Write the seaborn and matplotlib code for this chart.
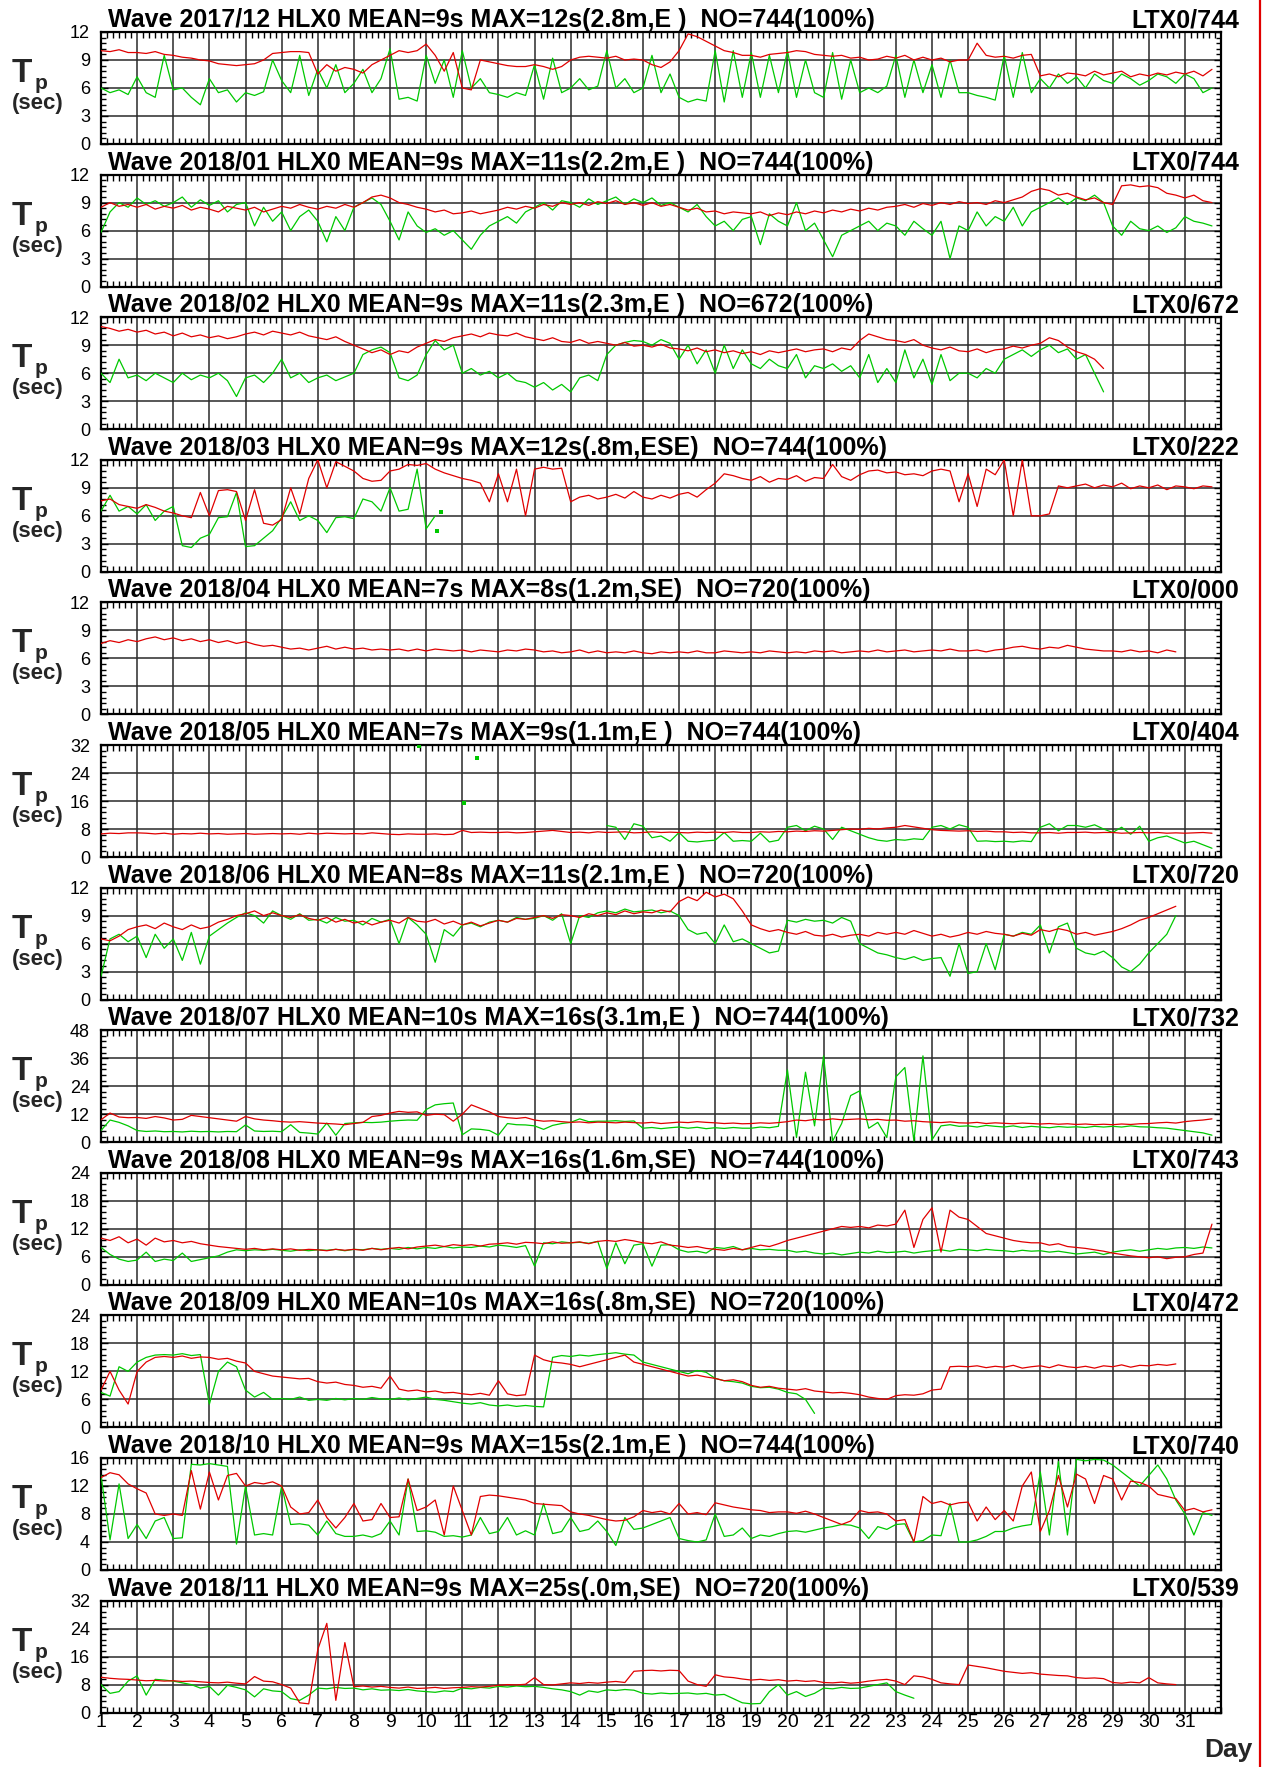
import numpy as np
import pandas as pd
import matplotlib
matplotlib.use("Agg")
import matplotlib.pyplot as plt
from matplotlib.lines import Line2D
from matplotlib.ticker import MultipleLocator, NullFormatter
import seaborn as sns

# ---------------- DATA (peak period Tp, sec; one value every 6 hours) ----------------
step_hours = 6
day_labels = list(range(1, 32))

red_1712 = [10.0,9.9,10.1,9.8, 9.8,9.7,9.9,9.6, 9.5,9.3,9.2,9.0, 8.9,8.6,8.5,8.4,
            8.5,8.6,9.0,9.7, 9.8,9.9,9.9,9.8, 7.5,8.5,7.8,8.2, 8.0,7.6,8.5,9.0,
            9.5,10.0,9.8,10.0, 10.7,9.5,7.8,9.8, 6.0,5.8,9.0,8.8, 8.6,8.4,8.3,8.3,
            8.5,8.3,8.0,8.3, 9.0,9.3,9.4,9.3, 9.2,9.4,9.0,9.1, 9.0,8.5,8.2,8.8,
            10.0,11.8,11.5,11.0, 10.5,10.0,9.8,9.5, 9.5,9.3,9.6,9.7, 9.8,10.0,9.9,9.6,
            9.5,9.4,9.5,9.2, 9.3,9.0,9.1,9.4, 9.2,9.5,9.0,9.3, 9.0,9.2,8.8,9.0,
            9.0,10.8,9.5,9.3, 9.4,9.2,9.5,9.6, 7.3,7.5,7.2,7.6, 7.5,7.3,7.8,7.4,
            7.6,7.8,7.2,7.5, 7.3,7.6,7.4,7.7, 7.5,7.8,7.3,8.0]
green_1712 = [6.0,5.5,5.8,5.3, 7.2,5.5,5.0,9.5, 5.8,6.0,5.0,4.2, 7.0,5.5,5.8,4.5,
              5.5,5.2,5.6,9.0, 6.8,5.5,9.5,5.2, 8.0,6.0,8.5,5.5, 6.5,8.0,5.5,7.0,
              10.2,4.8,5.0,4.6, 9.5,6.5,9.0,5.0, 10.0,6.0,7.0,5.5, 5.3,5.0,5.5,5.2,
              8.5,4.8,9.2,5.5, 6.0,7.0,5.8,6.2, 10.0,6.0,7.0,5.5, 6.0,9.5,5.5,7.5,
              5.0,4.5,4.8,4.6, 10.0,4.5,10.0,5.0, 9.8,5.0,9.5,5.5, 10.0,5.0,9.0,5.5,
              5.0,9.8,4.8,9.0, 5.5,6.0,5.5,6.2, 9.5,5.0,9.0,5.5, 8.5,5.0,9.0,5.5,
              5.5,5.2,5.0,4.7, 9.5,5.0,9.8,5.5, 7.0,6.0,7.5,6.5, 7.2,6.0,7.5,6.8,
              6.5,7.5,7.0,6.3, 6.8,7.5,7.2,6.5, 7.5,7.0,5.5,6.0]

red_1801 = [8.5,9.0,8.6,8.8, 8.5,8.8,8.3,8.6, 8.4,8.7,8.2,8.5, 8.3,8.0,8.6,8.4,
            8.2,8.5,8.0,8.3, 8.6,8.4,8.8,8.5, 8.3,8.6,8.4,8.8, 8.5,9.0,9.6,9.8,
            9.5,9.0,8.8,8.5, 8.3,8.0,8.2,7.8, 7.9,8.1,7.8,8.0, 8.2,8.5,8.3,8.6,
            8.4,8.8,8.6,9.0, 8.8,9.0,8.7,9.1, 8.9,9.2,8.8,9.0, 8.7,9.0,8.6,8.8,
            8.5,8.2,8.4,8.0, 8.1,7.8,8.0,7.9, 7.8,8.0,7.6,7.9, 7.7,8.0,7.8,8.1,
            7.9,8.2,8.0,8.3, 8.1,8.4,8.2,8.5, 8.6,8.8,8.5,8.9, 8.7,9.0,8.8,9.1,
            8.9,9.0,8.8,9.2, 9.0,9.3,9.6,10.2, 10.5,10.3,9.8,10.0, 9.6,9.3,9.5,9.0,
            8.8,10.8,10.9,10.7, 10.8,10.6,10.0,9.8, 9.5,9.8,9.2,9.0]
green_1801 = [5.8,8.0,9.0,8.5, 9.5,8.8,9.2,8.6, 9.0,9.6,8.5,9.3, 8.7,9.2,8.0,8.8,
              9.0,6.5,8.5,7.0, 8.0,6.0,7.5,8.2, 7.0,4.8,7.5,6.0, 8.5,9.0,9.5,8.8,
              7.0,5.0,8.0,6.5, 5.8,6.2,5.5,6.0, 5.0,4.0,5.5,6.5, 7.0,7.5,6.8,8.0,
              8.5,9.0,8.2,9.2, 9.0,8.5,9.4,8.8, 9.2,9.6,8.8,9.4, 9.0,9.5,8.7,9.0,
              8.5,8.0,8.8,7.5, 6.5,7.0,6.0,7.2, 7.5,4.5,7.8,7.0, 6.5,9.0,6.0,6.8,
              5.0,3.2,5.5,6.0, 6.5,7.0,6.0,6.8, 6.5,5.5,7.0,6.2, 5.5,7.0,3.0,6.5,
              6.0,8.0,6.5,7.5, 7.0,8.5,6.5,8.0, 8.5,9.0,9.5,8.8, 9.5,9.2,9.8,9.0,
              6.5,5.5,7.0,6.2, 6.0,6.5,5.8,6.3, 7.5,7.0,6.8,6.5]

red_1802 = [11.0,10.8,10.5,10.7, 10.4,10.6,10.2,10.4, 10.0,10.3,9.9,10.1, 9.8,10.0,9.7,9.9,
            10.2,10.4,10.1,10.5, 10.3,10.1,10.4,10.0, 9.8,9.6,9.9,9.4, 9.0,8.6,8.2,8.5,
            8.0,8.4,8.2,8.8, 9.2,9.6,9.4,9.8, 10.0,10.2,9.9,10.3, 10.1,10.0,10.3,9.9,
            9.7,9.5,9.8,9.4, 9.3,9.6,9.2,9.4, 9.2,9.0,9.3,8.9, 9.0,8.8,9.1,8.7,
            8.6,8.4,8.7,8.3, 8.5,8.2,8.4,8.1, 8.3,8.0,8.4,8.2, 8.4,8.6,8.3,8.5,
            8.6,8.3,8.7,8.5, 9.5,10.2,9.9,9.6, 9.5,9.3,9.6,9.0, 8.7,8.5,8.8,8.4,
            8.3,8.6,8.2,8.5, 8.6,8.9,8.7,9.0, 9.2,9.8,9.5,8.8, 8.3,8.0,7.5,6.5]
green_1802 = [6.0,5.0,7.5,5.5, 5.8,5.2,6.0,5.5, 5.0,6.0,5.3,5.8, 5.5,6.0,5.2,3.5,
              5.5,5.8,5.0,6.0, 7.5,5.5,6.0,5.0, 5.5,5.8,5.2,5.6, 6.0,8.0,8.5,8.8,
              8.2,5.5,5.2,5.8, 8.0,9.5,8.5,9.0, 6.0,6.5,5.8,6.2, 5.5,6.0,5.2,5.0,
              4.5,5.0,4.2,4.8, 4.0,5.5,5.8,5.2, 8.0,9.0,9.3,9.5, 9.4,9.0,9.6,9.2,
              7.5,9.0,7.0,8.5, 6.0,9.0,6.5,8.5, 7.0,6.5,7.5,6.8, 6.5,8.0,5.5,6.8,
              6.5,7.0,6.2,6.8, 5.5,8.0,5.0,6.5, 5.0,8.5,5.5,7.5, 4.8,8.0,5.2,6.0,
              6.0,5.5,6.5,6.0, 7.5,8.0,8.5,7.8, 8.5,9.0,8.2,8.6, 7.5,8.0,6.0,4.0]

red_1803 = [7.6,7.8,7.2,7.0, 6.8,7.2,6.9,6.5, 6.3,6.0,5.8,8.5, 6.0,8.7,8.8,8.6,
            5.5,8.8,5.2,5.0, 5.6,9.0,6.2,10.0, 12.0,9.0,11.8,11.3, 10.8,10.0,9.7,9.8,
            10.8,11.0,11.5,11.4, 11.6,11.0,10.6,10.3, 10.0,9.8,9.5,7.5, 10.5,7.5,11.0,6.0,
            11.0,11.2,11.0,11.1, 7.5,8.0,8.2,7.8, 8.0,8.3,7.9,8.6, 8.0,7.8,8.2,7.9,
            8.3,8.5,8.0,8.8, 9.5,10.5,10.3,10.0, 9.8,10.2,9.6,10.0, 9.9,10.3,9.7,10.1,
            10.0,11.5,10.2,9.8, 10.4,10.8,10.9,10.6, 10.7,10.4,10.5,10.3, 10.8,11.0,10.8,7.5,
            10.5,7.0,11.0,10.4, 12.0,6.0,12.0,6.0, 6.0,6.2,9.2,9.0, 9.2,9.4,9.0,9.3,
            9.1,9.5,8.9,9.2, 9.0,9.3,8.8,9.2, 9.1,8.9,9.2,9.1]
green_1803 = [6.5,8.2,6.5,7.0, 6.2,7.2,5.5,6.5, 7.0,2.8,2.6,3.6, 4.0,5.8,5.9,8.5,
              2.7,2.8,3.6,4.4, 5.8,7.5,5.5,6.0, 5.5,4.2,5.8,5.9, 5.7,7.8,7.5,6.5,
              9.0,6.5,6.7,11.0, 4.6,6.0]
dots_1803_day = [10.3, 10.4]
dots_1803_val = [4.4, 6.4]

red_1804 = [7.6,7.9,7.7,8.0, 7.8,8.1,8.3,8.0, 8.2,7.9,8.1,7.8, 8.0,7.7,7.9,7.6,
            7.8,7.5,7.3,7.4, 7.2,7.0,7.1,6.9, 7.1,7.3,7.0,7.2, 7.0,7.1,6.9,7.0,
            6.9,7.0,6.8,7.0, 6.8,7.0,6.9,6.8, 6.9,6.7,6.9,6.8, 6.7,6.9,6.8,7.0,
            6.9,6.7,6.8,6.6, 6.7,6.9,6.6,6.8, 6.6,6.7,6.6,6.8, 6.6,6.5,6.7,6.6,
            6.7,6.6,6.8,6.6, 6.6,6.8,6.7,6.6, 6.7,6.6,6.8,6.7, 6.6,6.7,6.6,6.8,
            6.7,6.8,6.6,6.7, 6.8,6.7,6.9,6.7, 6.8,6.9,6.7,6.8, 6.9,6.8,7.0,6.8,
            6.8,6.9,6.7,6.9, 7.0,7.2,7.3,7.1, 7.0,7.2,7.1,7.4, 7.2,7.0,6.9,6.8,
            6.8,6.7,6.9,6.7, 6.8,6.6,6.9,6.7]

red_1805 = [6.6,6.8,6.7,6.9, 6.9,6.8,6.6,6.8, 6.5,6.7,6.6,6.8, 6.6,6.7,6.5,6.6,
            6.7,6.5,6.6,6.7, 6.6,6.7,6.5,6.8, 6.6,6.8,6.7,6.6, 6.7,6.6,6.9,6.7,
            6.5,6.4,6.6,6.5, 6.5,6.6,6.4,6.5, 7.6,7.0,7.1,7.0, 7.0,7.1,6.9,7.0,
            7.2,7.4,7.6,7.3, 7.0,7.1,6.9,7.2, 7.0,7.1,7.2,6.9, 7.0,7.2,7.0,7.1,
            7.0,6.9,7.1,7.0, 7.1,7.0,7.2,7.0, 7.0,7.2,7.1,7.3, 7.2,7.4,7.3,7.5,
            7.4,7.6,7.8,8.0, 7.9,8.2,8.0,8.3, 8.5,9.0,8.6,8.2, 7.8,7.6,7.5,7.4,
            7.5,7.3,7.4,7.2, 7.2,7.0,7.1,6.9, 6.9,7.0,6.8,7.0, 7.0,7.1,6.9,7.0,
            7.0,6.8,6.9,7.0, 6.9,7.0,6.8,6.9, 6.8,6.9,7.0,6.8]
green_1805_start_day = 15
green_1805 = [9.0,8.5,5.0,9.5, 8.8,5.5,6.0,4.5, 7.0,4.5,4.3,4.6, 4.8,7.0,4.5,4.7,
              4.5,6.8,4.3,4.8, 8.5,9.0,7.5,8.8, 8.0,5.0,8.5,7.5, 6.5,5.5,4.8,4.5,
              5.0,4.8,5.2,5.0, 8.5,9.0,8.0,9.2, 8.5,4.5,4.6,4.4, 4.5,4.3,4.6,4.4,
              8.5,9.5,7.5,9.0, 9.0,8.5,9.2,8.0, 7.0,8.5,6.5,8.8, 4.5,5.5,6.0,5.0,
              4.0,4.5,3.5,2.5]
dots_1805_day = [9.8, 11.05, 11.4]
dots_1805_val = [31.6, 15.4, 28.3]

red_1806 = [6.5,6.3,6.8,7.5, 7.8,8.0,7.6,8.2, 7.8,7.5,8.0,7.6, 7.8,8.3,8.6,9.0,
            9.2,9.5,9.0,9.3, 9.0,8.8,9.1,8.7, 8.5,8.8,8.3,8.6, 8.2,8.4,8.0,8.3,
            8.5,8.2,8.8,8.4, 8.3,8.6,8.1,8.4, 8.0,8.3,7.9,8.2, 8.5,8.3,8.7,8.6,
            8.8,9.0,8.7,9.1, 9.0,8.8,9.2,9.0, 9.3,9.1,9.5,9.2, 9.4,9.3,9.6,9.4,
            10.5,11.0,10.6,11.5, 11.0,11.3,10.8,9.5, 8.0,7.6,7.3,7.5, 7.2,7.0,7.3,6.9,
            6.8,7.0,6.7,6.9, 7.0,6.8,7.2,7.0, 7.2,7.0,7.4,7.1, 6.8,7.0,6.7,6.9,
            7.2,7.0,7.3,7.1, 7.0,6.8,7.1,6.9, 7.5,7.3,7.6,7.4, 7.0,7.2,6.9,7.1,
            7.3,7.6,8.0,8.5, 8.8,9.2,9.6,10.0]
green_1806 = [2.5,6.5,7.0,6.2, 6.8,4.5,7.0,5.5, 6.5,4.2,7.2,3.8, 6.8,7.5,8.2,8.8,
              9.3,9.0,8.2,9.5, 9.0,8.6,9.2,8.5, 8.6,8.2,8.8,8.4, 8.5,8.0,8.7,8.3,
              8.6,6.0,8.8,8.0, 7.0,4.0,7.5,6.8, 8.0,8.2,7.8,8.3, 8.5,8.3,8.8,8.6,
              8.7,9.0,8.5,9.2, 6.0,9.0,8.8,9.3, 9.5,9.3,9.7,9.4, 9.5,9.6,9.3,9.5,
              9.0,7.5,7.0,7.2, 6.0,8.0,6.2,6.5, 6.0,5.5,5.0,5.2, 8.5,8.3,8.6,8.4,
              8.5,8.2,8.8,8.4, 6.0,5.5,5.0,4.8, 4.5,4.3,4.6,4.2, 4.4,4.5,2.5,6.0,
              2.8,3.0,6.0,3.2, 7.0,6.8,7.2,7.0, 8.0,5.0,7.8,8.2, 5.5,5.0,4.8,5.2,
              4.5,3.5,3.0,3.8, 5.0,6.0,7.0,9.0]

red_1807 = [9.6,12.5,10.8,10.5, 10.6,10.2,11.0,10.4, 9.5,9.8,11.5,11.0, 10.5,10.0,9.5,9.0,
            11.0,10.0,9.5,9.2, 8.8,8.6,8.8,8.5, 8.2,8.0,7.8,7.5, 8.0,8.5,11.0,11.5,
            12.5,13.2,12.8,13.0, 11.5,12.0,11.8,9.0, 12.0,16.0,14.5,13.0, 11.0,10.5,10.2,10.6,
            9.5,9.0,9.2,8.8, 8.5,8.7,8.3,8.6, 8.5,8.3,8.6,8.4, 8.2,8.5,8.0,8.3,
            8.6,8.4,8.8,8.5, 8.3,8.0,8.2,7.9, 8.0,8.3,8.1,8.4, 8.8,9.5,9.2,9.8,
            9.5,10.0,9.6,9.8, 10.0,9.6,9.8,9.4, 9.5,9.0,9.2,8.8, 8.6,8.4,8.7,8.3,
            8.2,8.5,8.0,8.3, 8.1,7.9,8.2,8.0, 7.8,8.0,7.7,7.9, 7.6,7.8,7.5,7.7,
            7.5,7.8,7.6,7.9, 8.0,8.3,8.5,8.2, 8.8,9.2,9.5,10.0]
green_1807 = [5.0,9.5,8.5,7.0, 5.0,4.6,4.8,4.5, 4.6,4.4,4.7,4.5, 4.6,4.4,4.6,4.5,
              7.4,4.8,4.6,4.7, 4.5,7.5,4.2,3.9, 3.5,8.2,3.0,8.0, 8.3,8.5,8.4,8.6,
              9.0,9.3,9.5,9.4, 14.0,16.0,16.5,16.8, 3.2,5.7,5.5,5.0, 3.0,8.0,7.5,7.4,
              7.0,5.5,7.2,8.0, 8.5,10.0,8.8,9.0, 9.0,9.2,8.9,9.1, 6.0,6.3,5.8,6.2,
              6.5,6.0,6.4,5.8, 6.2,5.9,6.3,6.0, 6.0,6.5,6.2,6.8, 31.0,2.0,30.0,7.0,
              37.0,0.5,8.0,20.0, 22.0,6.0,8.5,2.0, 28.0,32.0,0.5,37.0, 1.0,7.0,7.5,6.8,
              7.0,6.5,7.2,6.8, 6.5,7.0,6.3,6.8, 6.5,6.2,6.7,6.4, 6.6,6.3,6.8,6.5,
              6.8,6.5,7.0,6.6, 6.5,6.2,6.0,5.5, 5.0,4.5,4.0,3.0]

red_1808 = [10.0,9.5,10.3,9.0, 9.8,8.5,10.0,9.2, 9.5,9.0,9.3,8.8, 8.5,8.2,8.0,7.8,
            7.6,7.8,7.5,7.7, 7.5,7.7,7.4,7.6, 7.5,7.3,7.6,7.4, 7.6,7.4,7.8,7.5,
            7.8,8.0,7.7,8.1, 8.3,8.5,8.2,8.6, 8.4,8.6,8.3,8.7, 8.8,9.0,8.7,9.1,
            9.0,8.8,9.2,8.9, 9.0,9.2,8.8,9.3, 9.5,9.3,9.7,9.4, 9.0,8.8,9.2,8.5,
            8.3,8.0,8.2,7.8, 7.6,7.4,7.8,7.5, 8.0,8.5,8.2,8.8, 9.5,10.0,10.5,11.0,
            11.5,12.0,12.5,12.3, 12.5,12.2,12.8,12.6, 13.0,16.0,8.0,14.0, 16.5,7.0,16.0,14.5,
            14.0,12.5,11.0,10.5, 10.0,9.5,9.2,9.0, 9.0,8.5,8.8,8.2, 8.0,7.8,7.5,7.2,
            6.8,6.5,6.2,6.0, 5.8,6.0,5.6,5.9, 6.0,6.5,6.8,13.0]
green_1808 = [8.0,6.5,5.5,5.0, 5.3,7.0,5.0,5.5, 5.2,6.8,5.0,5.4, 5.8,6.2,7.0,7.5,
              7.3,7.5,7.4,7.6, 7.4,7.2,7.5,7.3, 7.5,7.4,7.6,7.3, 7.6,7.5,7.8,7.6,
              7.8,7.6,8.0,7.7, 8.0,7.8,8.2,7.9, 8.1,8.0,8.3,8.1, 8.5,8.3,8.0,8.4,
              4.0,9.0,8.8,9.2, 9.0,9.1,8.9,9.3, 3.5,9.0,4.5,8.5, 8.8,4.0,8.5,8.6,
              7.5,7.0,7.2,6.8, 8.0,7.8,8.2,7.5, 7.8,7.5,7.6,7.4, 7.4,7.0,7.2,6.8,
              6.6,6.8,6.4,6.7, 7.0,6.8,7.2,6.9, 7.0,7.2,6.8,7.1, 7.3,7.5,7.2,7.6,
              7.5,7.3,7.6,7.4, 7.3,7.1,7.4,7.2, 7.3,7.0,7.2,6.9, 6.6,6.8,7.0,6.5,
              7.0,7.3,7.5,7.2, 7.5,7.8,7.6,7.9, 8.0,7.8,8.1,7.9]

red_1809 = [8.0,12.0,8.0,5.0, 12.0,14.0,15.0,15.2, 15.0,15.3,14.8,15.1, 15.0,14.6,14.8,14.2,
            13.8,12.0,11.5,11.0, 10.8,10.6,10.4,10.5, 9.8,9.5,9.7,9.2, 9.0,8.6,8.8,8.4,
            11.0,8.2,7.8,8.0, 7.6,7.8,7.4,7.5, 7.2,7.0,7.3,6.9, 10.0,7.2,6.8,7.0,
            15.5,14.5,14.0,13.8, 13.5,13.0,13.5,14.0, 14.5,15.0,15.5,14.0, 13.5,13.0,12.5,12.0,
            11.5,11.0,11.2,10.8, 10.5,10.0,10.2,9.8, 9.0,8.6,8.8,8.4, 8.2,8.0,8.3,7.8,
            7.6,7.4,7.5,7.3, 7.0,6.5,6.2,6.0, 6.8,7.0,6.9,7.2, 8.0,8.2,13.0,13.1,
            13.0,13.2,12.8,13.1, 12.9,13.3,12.7,13.0, 13.2,12.8,13.4,13.0, 12.8,13.1,12.7,13.2,
            13.0,13.4,12.9,13.3, 13.2,13.5,13.3,13.6]
green_1809 = [7.5,6.7,13.0,12.0, 14.0,15.0,15.5,15.6, 15.5,15.8,15.4,15.6, 5.0,12.0,14.0,13.0,
              8.0,6.5,7.5,6.0, 6.2,6.0,6.5,5.8, 6.0,5.8,6.2,5.9, 6.2,6.0,6.4,6.1,
              6.0,6.3,5.9,6.2, 6.5,6.0,5.8,5.5, 5.2,5.0,5.3,4.8, 4.6,4.8,4.5,4.7,
              4.5,4.4,15.0,15.4, 15.2,15.5,15.3,15.6, 15.8,16.0,15.7,15.5, 14.0,13.5,13.0,12.5,
              12.0,11.5,12.2,11.8, 10.5,10.0,9.8,9.5, 8.8,8.5,8.6,8.2, 7.5,7.2,6.0,3.0]

red_1810 = [13.2,13.9,13.6,12.3, 11.6,11.0,8.0,7.8, 8.0,7.8,14.2,8.7, 14.0,10.0,13.5,13.8,
            12.0,12.5,12.3,12.6, 12.0,9.0,8.0,8.2, 10.0,7.5,6.0,7.5, 9.5,7.0,7.2,9.5,
            7.5,7.6,13.0,8.5, 9.0,10.0,5.0,12.0, 8.5,5.0,10.5,10.7, 10.6,10.4,10.2,10.0,
            9.5,9.4,9.3,9.2, 8.3,8.0,7.8,7.5, 7.2,7.0,7.1,7.6, 8.5,8.2,8.4,8.0,
            9.5,8.0,8.2,7.9, 9.6,9.3,9.0,8.8, 8.6,8.5,8.2,8.3, 8.3,8.1,8.4,8.0,
            7.5,7.0,6.5,7.0, 8.5,8.2,8.3,8.0, 7.0,7.2,4.0,10.5, 9.5,9.8,9.3,9.6,
            9.7,7.0,9.0,7.2, 8.5,7.0,12.0,14.0, 5.5,8.5,13.5,9.0, 13.7,13.0,9.5,13.5,
            13.0,10.0,12.7,12.5, 12.0,10.8,10.5,10.2, 8.5,8.8,8.3,8.6]
green_1810 = [13.5,4.3,12.3,4.5, 6.5,4.5,7.0,7.5, 4.5,4.6,15.1,15.0, 15.2,15.0,14.8,3.7,
              12.0,5.0,5.2,5.0, 12.0,6.5,6.6,6.4, 5.0,7.0,5.2,4.8, 4.8,5.0,4.7,5.2,
              7.0,5.0,13.0,5.5, 5.6,5.4,4.8,4.9, 4.7,5.0,7.5,5.2, 5.5,7.5,5.0,5.6,
              5.0,9.5,5.2,5.5, 7.5,5.5,5.8,7.0, 5.5,3.5,7.5,5.8, 6.0,6.5,7.0,7.5,
              4.5,4.2,4.0,4.3, 8.0,4.8,5.0,6.0, 4.5,5.0,4.8,5.2, 5.5,5.6,5.4,5.7,
              6.0,6.2,6.5,6.4, 6.0,4.5,6.2,5.8, 6.5,6.6,4.0,4.2, 5.0,4.9,9.5,4.0,
              4.0,4.3,4.8,5.5, 5.5,6.0,6.3,6.5, 14.0,5.0,15.5,5.0, 15.8,15.6,15.8,15.7,
              15.0,14.0,13.0,12.0, 13.5,15.0,13.0,10.0, 8.0,5.0,8.2,7.8]

red_1811 = [10.1,9.8,9.6,9.5, 9.3,9.1,9.2,9.0, 9.1,8.9,9.0,8.8, 8.6,8.5,8.7,8.4,
            8.2,10.3,9.0,8.8, 8.0,7.0,2.8,2.5, 18.0,25.5,3.5,20.0, 7.4,7.6,7.3,7.5,
            7.2,7.0,7.3,6.9, 7.0,7.2,6.9,7.1, 7.2,7.4,7.3,7.5, 7.8,8.0,7.9,8.1,
            10.0,8.0,7.9,8.2, 8.5,8.3,8.6,8.4, 8.7,8.9,8.6,11.8, 12.0,12.1,11.9,12.1,
            12.0,9.0,8.0,7.5, 10.8,10.2,10.0,9.6, 9.3,9.5,9.2,9.4, 9.0,9.2,8.9,9.1,
            8.6,8.5,8.7,8.4, 8.6,9.0,9.3,9.5, 9.0,8.0,10.5,10.2, 9.5,8.5,8.2,8.0,
            13.6,13.2,12.8,12.3, 11.8,11.5,11.2,11.4, 11.0,10.8,10.6,10.5, 10.0,9.8,9.9,9.7,
            8.6,8.4,8.7,8.5, 10.0,8.5,8.2,8.0]
green_1811 = [8.0,5.5,6.0,9.0, 10.5,5.0,9.5,9.3, 9.0,8.5,8.0,7.0, 7.5,5.0,7.8,7.2,
              6.5,4.5,6.8,6.2, 6.0,4.0,3.5,5.0, 7.0,6.8,7.2,6.9, 7.0,6.5,6.8,6.4,
              6.5,6.3,6.6,6.2, 6.0,5.8,6.2,6.0, 7.0,6.8,7.2,7.0, 7.5,7.3,7.6,7.4,
              7.5,7.2,6.8,6.5, 6.0,5.0,6.2,5.8, 6.5,6.3,6.6,6.4, 5.5,5.3,5.6,5.4,
              5.5,5.6,5.3,5.5, 5.0,5.2,4.0,2.8, 2.5,2.6,6.0,8.0, 5.0,6.0,4.6,5.5,
              7.0,6.8,7.2,6.9, 7.0,7.5,8.0,8.5, 6.0,5.0,4.1]

titles = ["Wave 2017/12 HLX0 MEAN=9s MAX=12s(2.8m,E )  NO=744(100%)",
          "Wave 2018/01 HLX0 MEAN=9s MAX=11s(2.2m,E )  NO=744(100%)",
          "Wave 2018/02 HLX0 MEAN=9s MAX=11s(2.3m,E )  NO=672(100%)",
          "Wave 2018/03 HLX0 MEAN=9s MAX=12s(.8m,ESE)  NO=744(100%)",
          "Wave 2018/04 HLX0 MEAN=7s MAX=8s(1.2m,SE)  NO=720(100%)",
          "Wave 2018/05 HLX0 MEAN=7s MAX=9s(1.1m,E )  NO=744(100%)",
          "Wave 2018/06 HLX0 MEAN=8s MAX=11s(2.1m,E )  NO=720(100%)",
          "Wave 2018/07 HLX0 MEAN=10s MAX=16s(3.1m,E )  NO=744(100%)",
          "Wave 2018/08 HLX0 MEAN=9s MAX=16s(1.6m,SE)  NO=744(100%)",
          "Wave 2018/09 HLX0 MEAN=10s MAX=16s(.8m,SE)  NO=720(100%)",
          "Wave 2018/10 HLX0 MEAN=9s MAX=15s(2.1m,E )  NO=744(100%)",
          "Wave 2018/11 HLX0 MEAN=9s MAX=25s(.0m,SE)  NO=720(100%)"]
ltx_labels = ["LTX0/744", "LTX0/744", "LTX0/672", "LTX0/222", "LTX0/000", "LTX0/404",
              "LTX0/720", "LTX0/732", "LTX0/743", "LTX0/472", "LTX0/740", "LTX0/539"]
y_max = [12, 12, 12, 12, 12, 32, 12, 48, 24, 24, 16, 32]

panels = [
    dict(red=red_1712, green=green_1712),
    dict(red=red_1801, green=green_1801),
    dict(red=red_1802, green=green_1802),
    dict(red=red_1803, green=green_1803, dots=(dots_1803_day, dots_1803_val)),
    dict(red=red_1804, green=None),
    dict(red=red_1805, green=green_1805, gstart=green_1805_start_day,
         dots=(dots_1805_day, dots_1805_val)),
    dict(red=red_1806, green=green_1806),
    dict(red=red_1807, green=green_1807),
    dict(red=red_1808, green=green_1808),
    dict(red=red_1809, green=green_1809),
    dict(red=red_1810, green=green_1810),
    dict(red=red_1811, green=green_1811),
]

# ---------------- STYLE ----------------
sns.set_theme(style="white")
plt.rcParams['font.family'] = ['Liberation Sans', 'DejaVu Sans']

W, H = 1263, 1767
fig = plt.figure(figsize=(W / 100, H / 100), dpi=100)

RED = "#e00000"
GREEN = "#00c800"
GRID = "#2a2a2a"

AX_L, AX_R = 101, 1221
TOP0, PITCH, AX_H = 32, 142.6, 112


def fx(px):
    return px / W


def fy(py):
    return 1 - py / H


def series_frame(vals, start_day=1):
    hours = (start_day - 1) * 24 + np.arange(len(vals)) * step_hours
    return pd.DataFrame({"hour": hours, "Tp": vals})


for i, p in enumerate(panels):
    top = TOP0 + i * PITCH
    ax = fig.add_axes([fx(AX_L), fy(top + AX_H), fx(AX_R - AX_L), AX_H / H])
    ymax = y_max[i]
    ystep = ymax / 4

    ax.set_xlim(0, 744)
    ax.set_ylim(0, ymax)
    ax.xaxis.set_major_locator(MultipleLocator(24))
    ax.xaxis.set_minor_locator(MultipleLocator(4))
    ax.yaxis.set_major_locator(MultipleLocator(ystep))
    ax.yaxis.set_minor_locator(MultipleLocator(ystep / 5))
    ax.grid(True, which="major", color=GRID, linewidth=1.1)
    ax.set_axisbelow(True)

    if p.get("green") is not None:
        gdf = series_frame(p["green"], p.get("gstart", 1))
        sns.lineplot(data=gdf, x="hour", y="Tp", color=GREEN, linewidth=0.9,
                     estimator=None, sort=False, ax=ax, zorder=3)
    rdf = series_frame(p["red"])
    sns.lineplot(data=rdf, x="hour", y="Tp", color=RED, linewidth=0.9,
                 estimator=None, sort=False, ax=ax, zorder=4)
    if "dots" in p:
        dd = pd.DataFrame({"hour": (np.array(p["dots"][0]) - 1) * 24,
                           "Tp": p["dots"][1]})
        sns.scatterplot(data=dd, x="hour", y="Tp", color=GREEN, s=5, marker="s",
                        linewidth=0, ax=ax, zorder=3)

    ax.set_xlabel("")
    ax.set_ylabel("")
    for sp in ax.spines.values():
        sp.set_visible(True)
        sp.set_color("black")
        sp.set_linewidth(1.6)

    ax.tick_params(axis="both", which="both", direction="in", colors="black",
                   top=True, bottom=True, left=True, right=True)
    ax.tick_params(axis="x", which="major", length=0)
    ax.tick_params(axis="x", which="minor", length=4, width=1)
    ax.tick_params(axis="y", which="major", length=5, width=1, labelsize=13, pad=8)
    ax.tick_params(axis="y", which="minor", length=3.5, width=1)
    ax.set_yticks(np.arange(0, ymax + 0.01, ystep))
    ax.set_yticklabels([f"{int(v)}" for v in np.arange(0, ymax + 0.01, ystep)])

    if i == len(panels) - 1:
        ax.set_xticks([(d - 1) * 24 for d in day_labels])
        ax.set_xticklabels([str(d) for d in day_labels], fontsize=14)
        ax.tick_params(axis="x", which="major", pad=1)
    else:
        ax.xaxis.set_major_formatter(NullFormatter())

    # titles
    fig.text(fx(108), fy(top - 5), titles[i], fontsize=18, fontweight="bold",
             ha="left", va="baseline", color="black")
    fig.text(fx(1239), fy(top - 5), ltx_labels[i], fontsize=18, fontweight="bold",
             ha="right", va="baseline", color="black")
    # y label  T_p (sec)
    fig.text(fx(12), fy(top + 50), "T", fontsize=24, fontweight="bold",
             ha="left", va="baseline")
    fig.text(fx(35), fy(top + 57), "p", fontsize=15, fontweight="bold",
             ha="left", va="baseline")
    fig.text(fx(12), fy(top + 77), "(sec)", fontsize=16, fontweight="bold",
             ha="left", va="baseline")

fig.text(fx(1253), fy(1757), "Day", fontsize=19, fontweight="bold",
         ha="right", va="baseline")
fig.add_artist(Line2D([fx(1260), fx(1260)], [0, 1], color=RED, linewidth=1.6))

fig.savefig("out.png", dpi=100)
